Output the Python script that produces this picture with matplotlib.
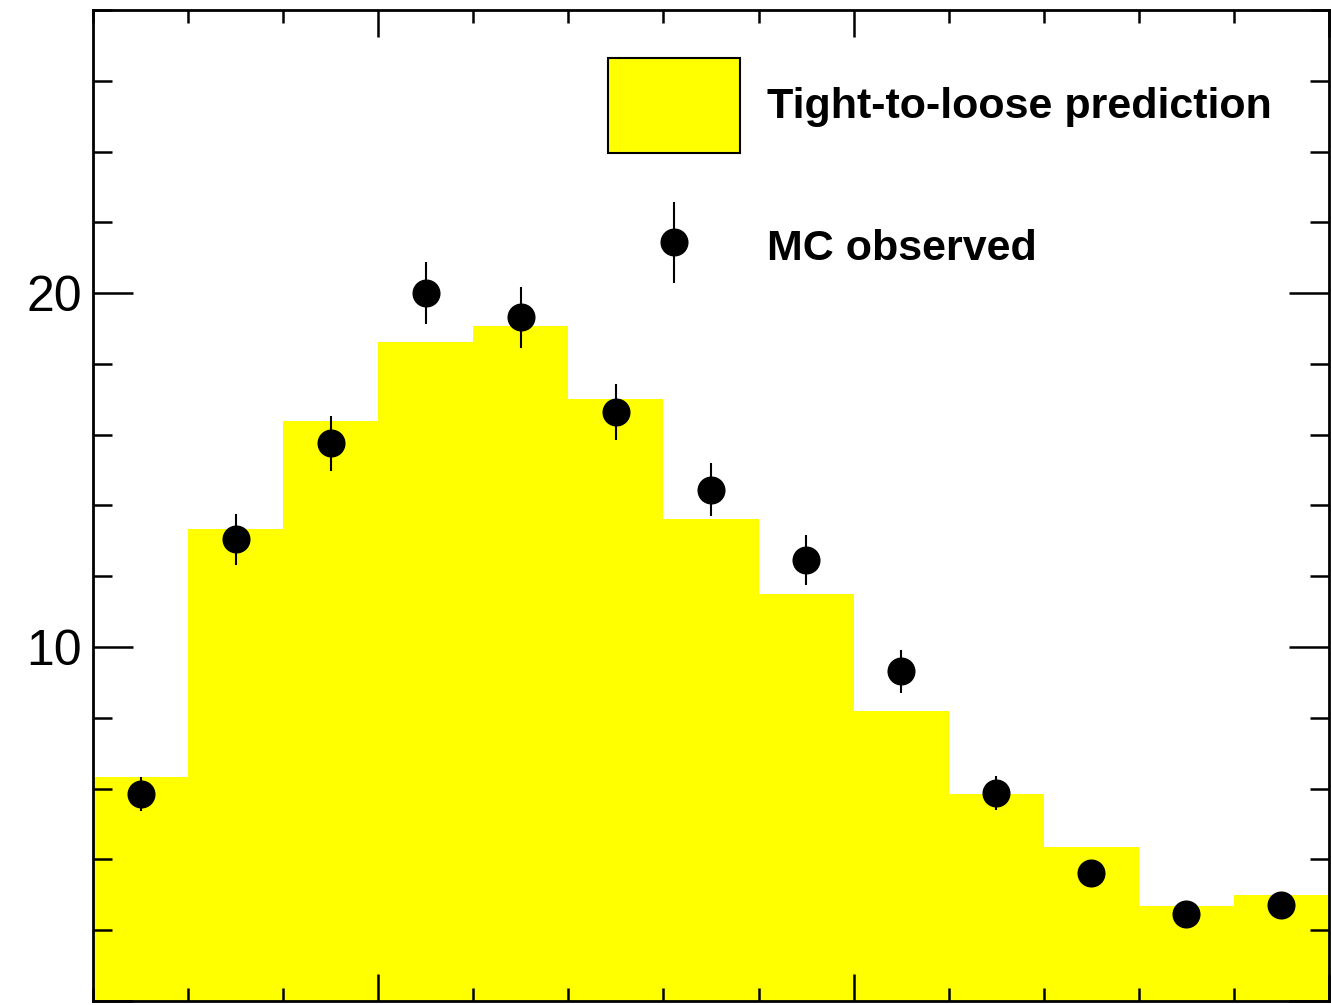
import numpy as np
import matplotlib
matplotlib.use("Agg")
import matplotlib.pyplot as plt
from matplotlib.patches import Patch
from matplotlib.ticker import MultipleLocator, FuncFormatter
from matplotlib.legend_handler import HandlerErrorbar
from matplotlib.container import ErrorbarContainer
from matplotlib.transforms import Affine2D

plt.rcParams['font.family'] = ['Liberation Sans', 'DejaVu Sans']

# Data
bin_edges = np.arange(20, 160, 10)
prediction = [6.32, 13.33, 16.38, 18.62, 19.07, 17.01, 13.62, 11.50, 8.19, 5.85, 4.35, 2.68, 2.99]
observed = [5.86, 13.05, 15.76, 20.00, 19.32, 16.64, 14.44, 12.46, 9.32, 5.88, 3.62, 2.46, 2.71]
observed_err = [0.48, 0.72, 0.78, 0.87, 0.86, 0.80, 0.75, 0.70, 0.61, 0.47, 0.35, 0.30, 0.31]
labels = ["Tight-to-loose prediction", "MC observed"]

centers = 0.5 * (bin_edges[:-1] + bin_edges[1:])
widths = np.diff(bin_edges)


class ShiftedErrorbar(HandlerErrorbar):
    # errorbar legend marker sits a bit low in the row, like the original
    def __init__(self, shift=0, **kw):
        super().__init__(**kw)
        self.shift = shift

    def create_artists(self, legend, orig_handle, xdescent, ydescent,
                       width, height, fontsize, trans):
        trans = trans + Affine2D().translate(0, -self.shift)
        return super().create_artists(legend, orig_handle, xdescent, ydescent,
                                      width, height, fontsize, trans)


fig = plt.figure(figsize=(13.31, 10.05), dpi=100)
ax = fig.add_axes([93 / 1331, 4 / 1005, 1236 / 1331, 991 / 1005])

ax.bar(bin_edges[:-1], prediction, width=widths, align='edge',
       color='#ffff00', linewidth=0, zorder=1)
eb = ax.errorbar(centers, observed, yerr=observed_err, fmt='o', color='black',
                 markersize=19.2, elinewidth=1.5, capsize=0, zorder=3)

ax.set_xlim(bin_edges[0], bin_edges[-1])
ax.set_ylim(0, 28)

ax.xaxis.set_major_locator(MultipleLocator(50))
ax.xaxis.set_minor_locator(MultipleLocator(10))
ax.yaxis.set_major_locator(MultipleLocator(10))
ax.yaxis.set_minor_locator(MultipleLocator(2))
ax.yaxis.set_major_formatter(FuncFormatter(lambda v, p: '' if v == 0 else '%d' % v))

ax.tick_params(which='both', direction='in', top=True, right=True,
               labelbottom=False, width=1.8, color='black')
ax.tick_params(axis='y', which='major', length=29, labelsize=36, pad=8)
ax.tick_params(axis='y', which='minor', length=14)
ax.tick_params(axis='x', which='major', length=19.5)
ax.tick_params(axis='x', which='minor', length=9.5)
for s in ax.spines.values():
    s.set_linewidth(2)
    s.set_zorder(5)

pred_handle = Patch(facecolor='#ffff00', edgecolor='black', linewidth=1.5)
leg = ax.legend([pred_handle, eb], labels,
                handler_map={ErrorbarContainer: ShiftedErrorbar(shift=13, yerr_size=0.95)},
                loc='upper left', bbox_to_anchor=(0.4167, 0.9516),
                frameon=False, borderpad=0, borderaxespad=0,
                handlelength=3.07, handleheight=3.03, labelspacing=1.07,
                handletextpad=0.62, numpoints=1,
                prop={'size': 31, 'weight': 'bold'})

fig.savefig("out.png", dpi=100)
